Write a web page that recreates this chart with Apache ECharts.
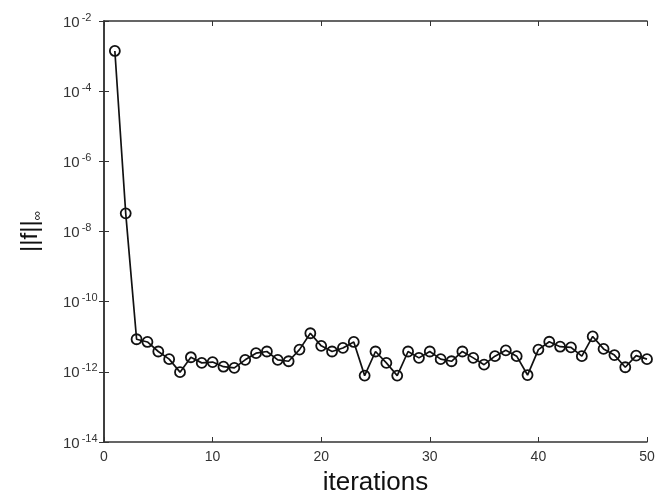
<!DOCTYPE html>
<html>
<head>
<meta charset="utf-8">
<script src="https://cdn.jsdelivr.net/npm/echarts@6/dist/echarts.min.js"></script>
<style>
  html, body { margin: 0; padding: 0; background: #fff; }
  #chart { width: 667px; height: 495px; }
</style>
</head>
<body>
<div id="chart"></div>
<script>
// Iteration index and residual infinity-norm per iteration
const iterations = [1,2,3,4,5,6,7,8,9,10,11,12,13,14,15,16,17,18,19,20,21,22,23,24,25,
  26,27,28,29,30,31,32,33,34,35,36,37,38,39,40,41,42,43,44,45,46,47,48,49,50];
const residual = [1.4e-3, 3.3e-8, 8.5e-12, 7.1e-12, 3.8e-12, 2.3e-12, 9.8e-13, 2.6e-12, 1.8e-12, 1.9e-12,
  1.4e-12, 1.3e-12, 2.2e-12, 3.4e-12, 3.8e-12, 2.2e-12, 2.0e-12, 4.3e-12, 1.26e-11, 5.5e-12,
  3.8e-12, 4.8e-12, 7.1e-12, 7.8e-13, 3.8e-12, 1.8e-12, 7.8e-13, 3.8e-12, 2.5e-12, 3.8e-12,
  2.3e-12, 2.0e-12, 3.8e-12, 2.5e-12, 1.6e-12, 2.8e-12, 4.1e-12, 2.8e-12, 8.1e-13, 4.3e-12,
  7.2e-12, 5.2e-12, 5.0e-12, 2.8e-12, 1.02e-11, 4.5e-12, 3.0e-12, 1.35e-12, 2.9e-12, 2.3e-12];
const xTicks = [0, 10, 20, 30, 40, 50];
const yExponents = [-14, -12, -10, -8, -6, -4, -2];

const FONT = '"Liberation Sans", Arial, sans-serif';
const INK = '#111';
const FRAME = '#333';
const LABEL = '#333';

const chart = echarts.init(document.getElementById('chart'), null, { renderer: 'canvas' });

const axisLineStyle = { show: true, lineStyle: { color: FRAME, width: 1.5 } };
const tickStyle = { show: true, inside: true, length: 5, lineStyle: { color: FRAME, width: 1 } };

const yMin = Math.pow(10, yExponents[0]);
const yMax = Math.pow(10, yExponents[yExponents.length - 1]);

chart.setOption({
  animation: false,
  backgroundColor: '#fff',
  grid: { left: 104, right: 20, top: 21, bottom: 53, containLabel: false, outerBoundsMode: 'none' },
  xAxis: [
    {
      type: 'value', min: xTicks[0], max: xTicks[xTicks.length - 1], interval: 10,
      position: 'bottom',
      axisLine: axisLineStyle, axisTick: tickStyle, splitLine: { show: false },
      axisLabel: { color: LABEL, fontFamily: FONT, fontSize: 14, margin: 8 },
      name: 'iterations', nameLocation: 'middle', nameGap: 28,
      nameTextStyle: { color: INK, fontFamily: FONT, fontSize: 26 }
    },
    {
      type: 'value', min: xTicks[0], max: xTicks[xTicks.length - 1], interval: 10,
      position: 'top',
      axisLine: axisLineStyle, axisTick: tickStyle, splitLine: { show: false },
      axisLabel: { show: false }
    }
  ],
  yAxis: [
    {
      type: 'log', logBase: 10, min: yMin, max: yMax, interval: 2,
      position: 'left',
      axisLine: axisLineStyle, axisTick: tickStyle, splitLine: { show: false },
      minorTick: { show: false },
      axisLabel: {
        margin: 41,
        align: 'left',
        formatter: function (v) {
          const e = Math.round(Math.log10(v));
          return '{b|10}{s|' + e + '}';
        },
        rich: {
          b: { color: LABEL, fontFamily: FONT, fontSize: 15, verticalAlign: 'bottom', lineHeight: 18 },
          s: { color: LABEL, fontFamily: FONT, fontSize: 11, verticalAlign: 'top', lineHeight: 10, padding: [0, 0, 12, 2] }
        }
      },
      name: '{n|||f||}{i|∞}', nameLocation: 'middle', nameGap: 60, nameRotate: 90,
      nameTextStyle: {
        rich: {
          n: { color: INK, fontFamily: FONT, fontSize: 24, lineHeight: 28, verticalAlign: 'middle' },
          i: { color: INK, fontFamily: FONT, fontSize: 13, lineHeight: 13, verticalAlign: 'bottom' }
        }
      }
    },
    {
      type: 'log', logBase: 10, min: yMin, max: yMax, interval: 2,
      position: 'right',
      axisLine: axisLineStyle, axisTick: tickStyle, splitLine: { show: false },
      minorTick: { show: false },
      axisLabel: { show: false }
    }
  ],
  series: [{
    type: 'line',
    xAxisIndex: 0, yAxisIndex: 0,
    data: iterations.map((it, i) => [it, residual[i]]),
    symbol: 'circle',
    symbolSize: 10,
    showSymbol: true,
    lineStyle: { color: INK, width: 1.7 },
    itemStyle: { color: 'rgba(255,255,255,0)', borderColor: INK, borderWidth: 1.8 },
    emphasis: { disabled: true }
  }]
});
</script>
</body>
</html>
